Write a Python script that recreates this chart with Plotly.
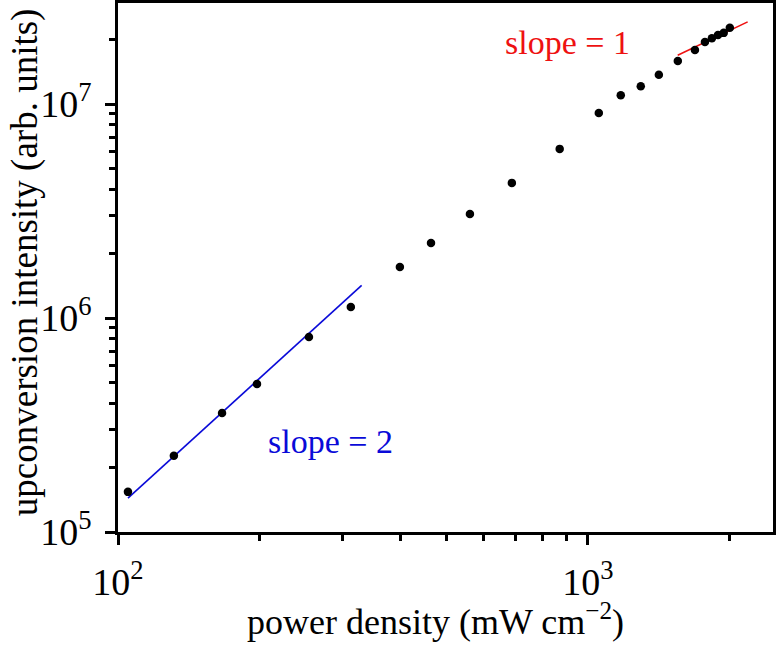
import plotly.graph_objects as go

# data
power_density = [105, 131.5, 166.5, 197.6, 254.9, 313, 398, 463.6, 561, 689, 871,
                 1055, 1175, 1296, 1416, 1554, 1690, 1775, 1836, 1892, 1946, 2005]
intensity = [1.54e5, 2.27e5, 3.60e5, 4.92e5, 8.15e5, 1.125e6, 1.73e6, 2.24e6, 3.06e6,
             4.28e6, 6.17e6, 9.08e6, 1.10e7, 1.21e7, 1.37e7, 1.59e7, 1.79e7, 1.95e7,
             2.03e7, 2.10e7, 2.15e7, 2.27e7]

slope2_x = [105, 330]
slope2_y = [1.44e5, 1.42e6]
slope1_x = [1553, 2188]
slope1_y = [1.69e7, 2.42e7]

x_tickvals = [100, 1000]
x_ticktext = ["10<sup>2</sup>", "10<sup>3</sup>"]
x_minor = [200, 300, 400, 500, 600, 700, 800, 900, 2000]
y_tickvals = [1e5, 1e6, 1e7]
y_ticktext = ["10<sup>5</sup>", "10<sup>6</sup>", "10<sup>7</sup>"]
y_minor = [2e5, 3e5, 4e5, 5e5, 6e5, 7e5, 8e5, 9e5,
           2e6, 3e6, 4e6, 5e6, 6e6, 7e6, 8e6, 9e6, 2e7]

FONT = "Liberation Serif"
BLUE = "#0a0ad8"
RED = "#ee1111"

fig = go.Figure()
fig.add_trace(go.Scatter(x=slope2_x, y=slope2_y, mode="lines",
                         line=dict(color=BLUE, width=1.6), showlegend=False))
fig.add_trace(go.Scatter(x=slope1_x, y=slope1_y, mode="lines",
                         line=dict(color=RED, width=1.6), showlegend=False))
fig.add_trace(go.Scatter(x=power_density, y=intensity, mode="markers",
                         marker=dict(color="black", size=8.5), showlegend=False))

axis_common = dict(
    type="log", showline=True, linecolor="black", linewidth=2.8, mirror=True,
    ticks="outside", ticklen=10, tickwidth=2.5, tickcolor="black",
    showgrid=False, zeroline=False, automargin=False,
    tickfont=dict(family=FONT, size=38, color="black"),
)

fig.update_xaxes(**axis_common, range=[2, 3.394], tickmode="array",
                 tickvals=x_tickvals, ticktext=x_ticktext,
                 minor=dict(ticks="outside", ticklen=6, tickwidth=2.5, tickcolor="black",
                            tickmode="array", tickvals=x_minor, showgrid=False),
                 ticklabelstandoff=4)
fig.update_yaxes(**axis_common, range=[5, 7.472], tickmode="array",
                 tickvals=y_tickvals, ticktext=y_ticktext,
                 minor=dict(ticks="outside", ticklen=6, tickwidth=2.5, tickcolor="black",
                            tickmode="array", tickvals=y_minor, showgrid=False),
                 ticklabelstandoff=6)

fig.add_annotation(text="power density (mW cm<sup>\u22122</sup>)", xref="paper", yref="paper",
                   x=0.484, y=-0.166, xanchor="center", yanchor="middle", showarrow=False,
                   font=dict(family=FONT, size=36, color="black"))
fig.add_annotation(text="upconversion intensity (arb. units)", xref="paper", yref="paper",
                   x=-0.142, y=0.51, xanchor="center", yanchor="middle", showarrow=False,
                   textangle=-90, font=dict(family=FONT, size=37, color="black"))

fig.add_annotation(text="slope = 1", xref="paper", yref="paper", x=0.6855, y=0.926,
                   xanchor="center", yanchor="middle",
                   showarrow=False, font=dict(family=FONT, size=34, color=RED))
fig.add_annotation(text="slope = 2", xref="paper", yref="paper", x=0.325, y=0.172,
                   xanchor="center", yanchor="middle",
                   showarrow=False, font=dict(family=FONT, size=34, color=BLUE))

fig.update_layout(width=776, height=645, margin=dict(l=118, r=3, t=3, b=113),
                  plot_bgcolor="white", paper_bgcolor="white")
fig.write_html("out.html", config={"displayModeBar": False},
               post_script="document.body.style.margin='0';document.body.style.overflow='hidden';")
